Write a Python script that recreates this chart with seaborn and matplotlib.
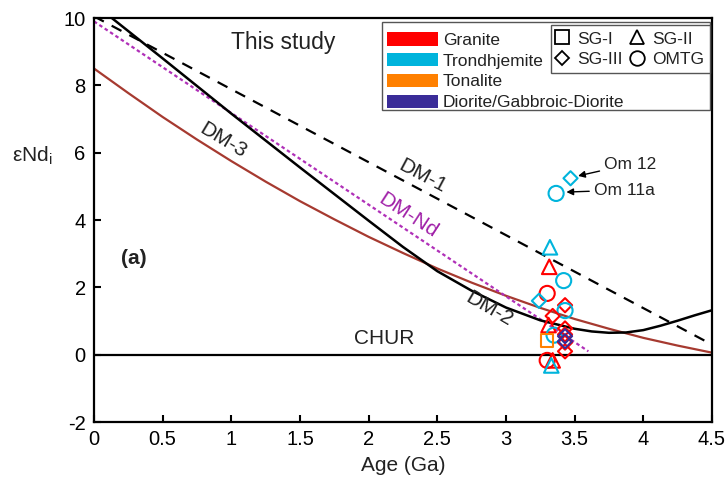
import matplotlib
matplotlib.use("Agg")
import matplotlib.pyplot as plt
from matplotlib.patches import Patch, Rectangle
from matplotlib.lines import Line2D
import pandas as pd
import seaborn as sns

# Depleted-mantle and CHUR evolution curves (age in Ga, εNd)
dm2_age = [0.0, 0.5, 1.0, 1.5, 2.0, 2.25, 2.5, 2.75, 3.0, 3.25, 3.5,
           3.625, 3.75, 3.875, 4.0, 4.125, 4.25, 4.375, 4.5]
dm2_eps = [10.42, 8.80, 7.16, 5.56, 3.98, 3.20, 2.48, 1.90, 1.40, 1.02, 0.77,
           0.69, 0.65, 0.66, 0.73, 0.86, 1.01, 1.17, 1.32]
dm3_age = [0.0, 0.25, 0.5, 0.75, 1.0, 1.25, 1.5, 1.75, 2.0, 2.25,
           2.5, 2.75, 3.0, 3.25, 3.5, 3.75, 4.0, 4.25, 4.5]
dm3_eps = [8.50, 7.77, 7.06, 6.39, 5.75, 5.14, 4.56, 4.02, 3.50, 3.02,
           2.56, 2.14, 1.75, 1.39, 1.06, 0.77, 0.50, 0.27, 0.06]
dm1_age = [0.0, 4.5]
dm1_eps = [10.05, 0.30]
dmnd_age = [0.0, 3.6]
dmnd_eps = [9.90, 0.10]
chur_age = [0.0, 4.5]
chur_eps = [0.0, 0.0]

# Samples: crystallisation age, initial εNd, rock type, suite
sample_age = [3.47, 3.365, 3.32, 3.315, 3.42, 3.30, 3.24, 3.43, 3.43, 3.34,
              3.31, 3.35, 3.30, 3.43, 3.43, 3.43, 3.43, 3.43, 3.43, 3.30,
              3.34, 3.33]
sample_eps = [5.24, 4.79, 3.19, 2.61, 2.20, 1.82, 1.60, 1.47, 1.31, 1.15,
              0.88, 0.58, 0.42, 0.78, 0.60, 0.36, 0.10, 0.55, 0.40, -0.17,
              -0.17, -0.32]
sample_rock = ["Trondhjemite", "Trondhjemite", "Trondhjemite", "Granite", "Trondhjemite",
               "Granite", "Trondhjemite", "Granite", "Trondhjemite", "Granite",
               "Granite", "Trondhjemite", "Tonalite", "Granite", "Granite",
               "Granite", "Granite", "Diorite/Gabbroic-Diorite", "Diorite/Gabbroic-Diorite",
               "Granite", "Granite", "Trondhjemite"]
sample_group = ["SG-III", "OMTG", "SG-II", "SG-II", "OMTG", "OMTG", "SG-III", "SG-III",
                "OMTG", "SG-III", "SG-II", "OMTG", "SG-I", "SG-III", "SG-III", "SG-III",
                "SG-III", "SG-III", "SG-III", "OMTG", "SG-II", "SG-II"]

rock_types = ["Granite", "Trondhjemite", "Tonalite", "Diorite/Gabbroic-Diorite"]
rock_colors = {"Granite": "#FF0000", "Trondhjemite": "#00B4DC",
               "Tonalite": "#FF8000", "Diorite/Gabbroic-Diorite": "#3A2C98"}
group_names = ["SG-I", "SG-II", "SG-III", "OMTG"]
group_markers = {"SG-I": "s", "SG-II": "^", "SG-III": "D", "OMTG": "o"}
group_sizes = {"SG-I": 78, "SG-II": 110, "SG-III": 52, "OMTG": 118}

x_ticks = [0, 0.5, 1, 1.5, 2, 2.5, 3, 3.5, 4, 4.5]
x_tick_labels = ["0", "0.5", "1", "1.5", "2", "2.5", "3", "3.5", "4", "4.5"]
y_ticks = [-2, 0, 2, 4, 6, 8, 10]

sns.set_theme(style="ticks")
plt.rcParams["font.family"] = ["Liberation Sans", "DejaVu Sans"]
plt.rcParams["mathtext.fontset"] = "custom"
plt.rcParams["mathtext.rm"] = "Liberation Sans"
plt.rcParams["axes.unicode_minus"] = False

fig = plt.figure(figsize=(7.28, 4.88), dpi=100)
ax = fig.add_axes([0.1291, 0.1352, 0.8489, 0.8279])

# Evolution curves
sns.lineplot(x=chur_age, y=chur_eps, ax=ax, color="black", lw=1.6, zorder=2)
sns.lineplot(x=dm3_age, y=dm3_eps, ax=ax, color="#A63A30", lw=1.6, zorder=2)
sns.lineplot(x=dm1_age, y=dm1_eps, ax=ax, color="black", lw=1.6, zorder=2)
ax.lines[-1].set_dashes((5, 4))
sns.lineplot(x=dmnd_age, y=dmnd_eps, ax=ax, color="#B030B8", lw=1.6, zorder=2)
ax.lines[-1].set_dashes((1.6, 1.3))
sns.lineplot(x=dm2_age, y=dm2_eps, ax=ax, color="black", lw=1.8, zorder=2)

# Samples drawn as open symbols
samples = pd.DataFrame({"age": sample_age, "eps": sample_eps,
                        "rock": sample_rock, "group": sample_group})
sns.scatterplot(data=samples, x="age", y="eps", hue="rock", style="group",
                size="group", sizes=group_sizes, size_order=group_names,
                palette=rock_colors, markers=group_markers, hue_order=rock_types,
                style_order=group_names, linewidth=1.5, legend=False,
                ax=ax, zorder=4)
pts = ax.collections[-1]
pts.set_edgecolors(pts.get_facecolors())
pts.set_facecolors("none")

ax.set_xlim(0, 4.5)
ax.set_ylim(-2, 10)
ax.set_xticks(x_ticks)
ax.set_xticklabels(x_tick_labels)
ax.set_yticks(y_ticks)
ax.tick_params(direction="in", length=5, width=1.5, labelsize=14.5,
               colors="black", pad=6)
for sp in ax.spines.values():
    sp.set_visible(True)
    sp.set_linewidth(1.6)
    sp.set_color("black")

ax.set_xlabel("Age (Ga)", fontsize=15, color="#222222")
ax.xaxis.set_label_coords(0.5, -0.085)
ax.set_ylabel(r"εNd$_\mathregular{i}$", fontsize=15, rotation=0,
              ha="center", va="center", color="#222222")
ax.yaxis.set_label_coords(-0.1, 0.66)

# Curve labels
txt = dict(fontsize=15, color="#222222", ha="center", va="center")
ax.text(0.94, 6.36, "DM-3", rotation=-31, **txt)
ax.text(2.39, 5.29, "DM-1", rotation=-28, **txt)
ax.text(2.29, 4.15, "DM-Nd", rotation=-33, fontsize=15, color="#A020A8",
        ha="center", va="center")
ax.text(2.88, 1.35, "DM-2", rotation=-30, **txt)
ax.text(2.11, 0.49, "CHUR", **txt)
ax.text(1.38, 9.28, "This study", fontsize=16.5, color="#222222",
        ha="center", va="center")
ax.text(0.29, 2.86, "(a)", fontsize=15, fontweight="bold", color="#222222",
        ha="center", va="center")

# Labelled samples
arrow = dict(arrowstyle="-|>", color="black", lw=1.0, mutation_scale=10,
             shrinkA=1, shrinkB=0)
ax.annotate("Om 12", xy=(3.525, 5.31), xytext=(3.715, 5.66), fontsize=12.5,
            ha="left", va="center", color="#222222", arrowprops=arrow)
ax.annotate("Om 11a", xy=(3.44, 4.83), xytext=(3.64, 4.89), fontsize=12.5,
            ha="left", va="center", color="#222222", arrowprops=arrow)

# Rock-type legend inside a framed box
ax.add_patch(Rectangle((0.466, 0.772), 0.531, 0.218, transform=ax.transAxes,
                       facecolor="white", edgecolor="#555555", lw=1.0, zorder=5))
rock_handles = [Patch(facecolor=rock_colors[r], edgecolor="none") for r in rock_types]
leg1 = ax.legend(rock_handles, rock_types, loc="upper left",
                 bbox_to_anchor=(0.469, 0.973), frameon=False, fontsize=12.5,
                 handlelength=2.9, handleheight=0.8, handletextpad=0.3,
                 labelspacing=0.29, borderpad=0.2, borderaxespad=0)
leg1.set_zorder(6)
for t in leg1.get_texts():
    t.set_color("#222222")
ax.add_artist(leg1)

# Suite legend
order = ["SG-I", "SG-III", "SG-II", "OMTG"]
legend_msize = {"SG-I": 9.5, "SG-II": 10.5, "SG-III": 7.0, "OMTG": 10.5}
group_handles = [Line2D([], [], ls="none", marker=group_markers[g],
                        markersize=legend_msize[g],
                        markerfacecolor="none", markeredgecolor="black",
                        markeredgewidth=1.3) for g in order]
leg2 = ax.legend(group_handles, order, loc="upper right", ncol=2,
                 bbox_to_anchor=(0.9968, 0.982), frameon=True, fontsize=12.5,
                 handlelength=0.6, handletextpad=0.55, columnspacing=0.55,
                 labelspacing=0.32, borderpad=0.35, borderaxespad=0,
                 fancybox=False, framealpha=1)
leg2.get_frame().set_edgecolor("#555555")
leg2.get_frame().set_linewidth(1.0)
leg2.set_zorder(7)
for t in leg2.get_texts():
    t.set_color("#222222")

fig.savefig("out.png", dpi=100)
